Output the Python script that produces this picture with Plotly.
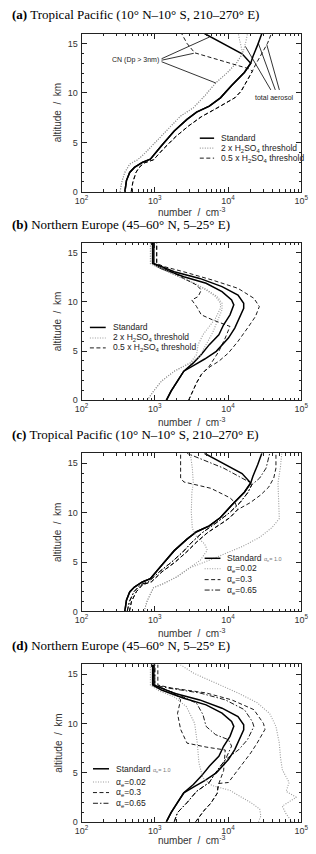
import plotly.graph_objects as go

# ---------------- data (number concentration in cm^-3 vs altitude in km) ----------------
# Tropical Pacific, standard run (panels a and c)
TP_STD_LOW_ALT = [0, 1.14, 1.97, 2.47, 2.98, 3.31, 4.65, 6.15, 7.32, 8.06, 8.66, 9.5, 10.74, 12.07, 13.0]
TP_STD_LOW_NUM = [390, 410, 454, 527, 676, 869, 1233, 1841, 2748, 3715, 5540, 7870, 11170, 16680, 20370]
TP_STD_CN_TOP_ALT = [13.95, 16.0]
TP_STD_CN_TOP_NUM = [15520, 4760]
TP_STD_TOT_TOP_ALT = [13.68, 14.85, 16.0]
TP_STD_TOT_TOP_NUM = [21830, 25340, 28890]

# (a) 2 x H2SO4 threshold
A_2X_LOW_ALT = [0, 0.97, 1.97, 2.81, 3.24, 3.81, 4.98, 6.32, 7.66, 8.49, 9.67, 11.0, 12.0, 13.0, 14.0]
A_2X_LOW_NUM = [336, 353, 390, 454, 582, 711, 1009, 1507, 2249, 3357, 4760, 6760, 9610, 12970, 15850]
A_2X_CN_TOP_ALT = [15.35, 16.0]
A_2X_CN_TOP_NUM = [14350, 13780]
A_2X_TOT_TOP_ALT = [15.18, 16.0]
A_2X_TOT_TOP_NUM = [17500, 18410]

# (a) 0.5 x H2SO4 threshold
A_05X_LOW_ALT = [0, 0.97, 1.97, 2.47, 2.91, 3.24, 4.31, 5.59, 6.66, 7.59, 8.39, 9.5, 10.17, 11.17, 12.17]
A_05X_LOW_NUM = [476, 501, 554, 612, 711, 961, 1297, 1936, 2890, 4310, 6760, 12330, 15070, 18060, 21380]
A_05X_CN_TOP_ALT = [12.4, 13.2, 14.05, 15.0, 16.0]
A_05X_CN_TOP_NUM = [20000, 8300, 3500, 2750, 2320]
A_05X_TOT_TOP_ALT = [12.84, 14.01, 15.02, 16.0]
A_05X_TOT_TOP_NUM = [23650, 28890, 34600, 39000]

# (a) leader lines for the in-plot labels
CN_LEADER_START_NUM = [1236, 1236, 1236]
CN_LEADER_START_ALT = [13.45, 13.3, 13.15]
CN_LEADER_END_NUM = [5600, 3400, 6800]
CN_LEADER_END_ALT = [15.65, 14.0, 11.0]
TOT_LEADER_START_NUM = [38300, 44100, 50100]
TOT_LEADER_START_ALT = [10.3, 10.3, 10.3]
TOT_LEADER_END_NUM = [17200, 25900, 33800]
TOT_LEADER_END_ALT = [14.7, 15.0, 14.85]

# Northern Europe, standard run (panels b and d)
NE_STD_LOW_ALT = [0, 0.94, 1.95, 2.96]
NE_STD_LOW_NUM = [1436, 1667, 2037, 2487]
NE_STD_CN_TOP_ALT = [3.8, 4.65, 5.66, 6.67, 7.68, 8.69, 9.7, 10.2, 11.04, 11.89, 12.56, 13.4, 13.9, 16.0]
NE_STD_CN_TOP_NUM = [3357, 4310, 5540, 7480, 8690, 10620, 11970, 11170, 8260, 5010, 2487, 1233, 933, 933]
NE_STD_TOT_TOP_ALT = [3.6, 4.2, 4.98, 6.33, 7.34, 8.35, 9.36, 9.87, 10.7, 11.55, 12.39, 13.06, 13.57, 13.9, 16.0]
NE_STD_TOT_TOP_NUM = [3500, 4800, 6900, 10100, 12330, 14350, 16330, 16330, 13650, 8260, 4100, 1841, 1233, 970, 970]

# (b) 2 x H2SO4 threshold
B_2X_LOW_ALT = [0, 0.94, 1.95, 2.96, 3.8]
B_2X_LOW_NUM = [787, 961, 1233, 1841, 3040]
B_2X_CN_TOP_ALT = [4.65, 5.66, 6.67, 7.51, 8.35, 9.36, 9.87, 10.54, 11.21, 11.89, 12.73, 13.57, 13.9, 16.0]
B_2X_CN_TOP_NUM = [3715, 3900, 4540, 5540, 6760, 7870, 7870, 6760, 5010, 3357, 1841, 1061, 869, 869]
B_2X_TOT_TOP_ALT = [4.48, 5.66, 6.84, 8.01, 9.19, 9.87, 10.54, 11.21, 11.89, 12.73, 13.57, 13.9, 16.0]
B_2X_TOT_TOP_NUM = [4100, 5010, 6120, 7110, 8260, 8260, 7110, 5200, 3500, 1900, 1100, 880, 880]

# (b) 0.5 x H2SO4 threshold
B_05X_LOW_ALT = [0, 0.77, 1.78, 2.62, 2.96]
B_05X_LOW_NUM = [2890, 3190, 3715, 4310, 4760]
B_05X_CN_TOP_ALT = [3.47, 3.97, 4.98, 6.33, 7.0, 7.51, 8.18, 8.69, 9.53, 10.2, 10.54, 11.21, 11.72, 12.39, 13.23, 13.74, 14.0, 16.0]
B_05X_CN_TOP_NUM = [5540, 6120, 7480, 9140, 10000, 10620, 6120, 4310, 3715, 3190, 3900, 4310, 3715, 2487, 1507, 1117, 1061, 1061]
B_05X_TOT_TOP_ALT = [3.47, 3.97, 4.81, 5.99, 7.34, 8.52, 9.53, 10.37, 11.38, 12.22, 13.06, 13.57, 13.9, 16.0]
B_05X_TOT_TOP_NUM = [5820, 7480, 10100, 13650, 18410, 23650, 26690, 22490, 13650, 6120, 2487, 1365, 1061, 1061]

# (c) accommodation coefficient 0.02
C_002_LOW_ALT = [0, 1.1, 2.4, 2.8, 3.5, 4.4]
C_002_LOW_NUM = [711, 790, 960, 1300, 2000, 3000]
C_002_CN_TOP_ALT = [5.2, 6.2, 6.8, 7.6, 8.4, 10.0, 12.0, 13.0, 14.5, 16.0]
C_002_CN_TOP_NUM = [4200, 5200, 4800, 3700, 3250, 3150, 3200, 3350, 3250, 3050]
C_002_TOT_TOP_ALT = [5.1, 5.8, 6.6, 7.5, 8.5, 9.4, 11.0, 13.0, 14.7, 16.0]
C_002_TOT_TOP_NUM = [5200, 9000, 16000, 27000, 40000, 50000, 49000, 48000, 52000, 54000]

# (c) accommodation coefficient 0.3
C_03_LOW_ALT = [0, 1.0, 2.0, 2.7, 3.0, 4.0, 5.0, 6.0, 7.0, 8.0, 9.0, 9.5, 10.3]
C_03_LOW_NUM = [450, 480, 560, 680, 900, 1250, 1900, 2700, 3700, 5300, 8500, 10600, 13500]
C_03_CN_TOP_ALT = [11.0, 11.5, 12.46, 13.1, 13.5, 16.0]
C_03_CN_TOP_NUM = [12500, 10600, 5820, 2490, 2250, 2250]
C_03_TOT_TOP_ALT = [11.0, 11.8, 12.6, 13.5, 14.5, 16.0]
C_03_TOT_TOP_NUM = [20000, 28000, 36000, 42000, 45000, 45000]

# (c) accommodation coefficient 0.65
C_065_LOW_ALT = [0, 1.0, 2.0, 2.7, 3.0, 4.0, 5.0, 6.0, 7.0, 8.0, 9.0, 10.0, 11.0, 12.0, 12.8]
C_065_LOW_NUM = [420, 450, 520, 640, 820, 1150, 1700, 2400, 3200, 4500, 7000, 10500, 14500, 18500, 21000]
C_065_CN_TOP_ALT = [13.1, 14.5, 16.0]
C_065_CN_TOP_NUM = [19400, 8700, 2750]
C_065_TOT_TOP_ALT = [13.5, 14.5, 16.0]
C_065_TOT_TOP_NUM = [27000, 33000, 37000]

# (d) accommodation coefficient 0.02
D_002_CN_ALT = [0, 0.6, 1.3, 1.9, 3.2, 3.7, 4.5, 6.0, 8.0, 10.0, 11.7, 12.7, 13.3, 13.9, 16.0]
D_002_CN_NUM = [26000, 28000, 27000, 21000, 10600, 6000, 4500, 4000, 3800, 3500, 2700, 1840, 1150, 870, 870]
D_002_TOT_ALT = [0, 0.8, 1.6, 2.5, 3.1, 4.0, 5.3, 6.5, 8.0, 9.7, 11.0, 12.1, 13.1, 14.1, 15.1, 16.0]
D_002_TOT_NUM = [75000, 62000, 55000, 85000, 62000, 68000, 55000, 52000, 50000, 45000, 37000, 25000, 13600, 6800, 3400, 2200]

# (d) accommodation coefficient 0.3
D_03_LOW_ALT = [0, 1.2, 1.9, 2.9, 3.6, 3.9]
D_03_LOW_NUM = [3600, 4760, 5820, 7110, 7300, 7480]
D_03_CN_TOP_ALT = [5.2, 6.3, 7.3, 7.6, 8.0, 9.4, 11.0, 12.4, 13.1, 13.6, 13.9, 16.0]
D_03_CN_TOP_NUM = [8690, 9000, 9140, 5010, 2750, 2250, 2040, 2250, 1840, 1230, 1000, 1000]
D_03_TOT_TOP_ALT = [4.0, 5.3, 7.0, 8.0, 9.4, 10.0, 11.4, 12.4, 13.1, 13.6, 13.9, 16.0]
D_03_TOT_TOP_NUM = [10100, 13650, 20370, 24900, 31900, 30400, 22490, 11170, 5000, 1700, 1100, 1100]

# (d) accommodation coefficient 0.65
D_065_LOW_ALT = [0, 0.94, 1.95, 3.1, 4.0, 5.0, 6.3]
D_065_LOW_NUM = [1840, 2040, 2750, 3715, 5540, 6760, 9140]
D_065_CN_TOP_ALT = [7.7, 8.35, 8.86, 9.7, 10.9, 12.05, 13.0, 13.7, 13.9, 16.0]
D_065_CN_TOP_NUM = [11170, 10100, 6760, 5010, 4540, 3715, 2000, 1150, 950, 950]
D_065_TOT_TOP_ALT = [7.34, 8.35, 9.7, 10.2, 11.4, 12.4, 13.1, 13.6, 13.9, 16.0]
D_065_TOT_TOP_NUM = [14000, 18410, 22490, 21380, 16680, 9140, 4100, 1500, 1000, 1000]

X_TICK_VALS = [100, 1000, 10000, 100000]
X_TICK_TEXT = ["10<sup>2</sup>", "10<sup>3</sup>", "10<sup>4</sup>", "10<sup>5</sup>"]
Y_TICK_VALS = [0, 5, 10, 15]

TITLES = [
    "<b>(a)</b> Tropical Pacific (10° N–10° S, 210–270° E)",
    "<b>(b)</b> Northern Europe (45–60° N, 5–25° E)",
    "<b>(c)</b> Tropical Pacific (10° N–10° S, 210–270° E)",
    "<b>(d)</b> Northern Europe (45–60° N, 5–25° E)",
]
LEG_THRESH = ["Standard", "2 x H<sub>2</sub>SO<sub>4</sub> threshold", "0.5 x H<sub>2</sub>SO<sub>4</sub> threshold"]
LEG_ACCOM = ["Standard <span style='font-size:5.5px;color:#777'>α<sub>e</sub>= 1.0</span>",
             "α<sub>e</sub>=0.02", "α<sub>e</sub>=0.3", "α<sub>e</sub>=0.65"]

# ---------------- layout geometry (pixels) ----------------
W, H = 316, 854
XL, XR = 78, 308
FRAMES = [(33.7, 193.0), (244.3, 402.7), (456.0, 615.0), (668.3, 826.7)]
TITLE_Y = [15, 226, 437.5, 649]
XTITLE_Y = [213.3, 424.0, 636.5, 845.0]

STD = dict(color="black", width=1.5, dash="solid")
TWO = dict(color="#9a9a9a", width=1.1, dash="1px,1.5px")
HALF = dict(color="black", width=0.9, dash="4px,2.5px")
DDOT = dict(color="black", width=0.9, dash="5px,2px,1.5px,2px")
STYLES3 = [STD, TWO, HALF]
STYLES4 = [STD, TWO, HALF, DDOT]

fig = go.Figure()


def ax(i):
    return ("x" if i == 0 else f"x{i+1}"), ("y" if i == 0 else f"y{i+1}")


def add(i, alt, num, style, width=None):
    xa, ya = ax(i)
    ln = dict(style)
    if width is not None:
        ln["width"] = width
    fig.add_trace(go.Scatter(x=num, y=alt, xaxis=xa, yaxis=ya, mode="lines",
                             line=ln, showlegend=False, hoverinfo="skip"))


def add_pair(i, low_alt, low_num, cn_alt, cn_num, tot_alt, tot_num, style):
    add(i, low_alt + tot_alt, low_num + tot_num, style)
    add(i, low_alt + cn_alt, low_num + cn_num, style)


# panel (a)
add_pair(0, TP_STD_LOW_ALT, TP_STD_LOW_NUM, TP_STD_CN_TOP_ALT, TP_STD_CN_TOP_NUM, TP_STD_TOT_TOP_ALT, TP_STD_TOT_TOP_NUM, STD)
add_pair(0, A_2X_LOW_ALT, A_2X_LOW_NUM, A_2X_CN_TOP_ALT, A_2X_CN_TOP_NUM, A_2X_TOT_TOP_ALT, A_2X_TOT_TOP_NUM, TWO)
add_pair(0, A_05X_LOW_ALT, A_05X_LOW_NUM, A_05X_CN_TOP_ALT, A_05X_CN_TOP_NUM, A_05X_TOT_TOP_ALT, A_05X_TOT_TOP_NUM, HALF)
LEAD = dict(color="black", width=0.8, dash="solid")
for k in range(3):
    add(0, [CN_LEADER_START_ALT[k], CN_LEADER_END_ALT[k]], [CN_LEADER_START_NUM[k], CN_LEADER_END_NUM[k]], LEAD)
    add(0, [TOT_LEADER_START_ALT[k], TOT_LEADER_END_ALT[k]], [TOT_LEADER_START_NUM[k], TOT_LEADER_END_NUM[k]], LEAD)

# panel (b)
add_pair(1, NE_STD_LOW_ALT, NE_STD_LOW_NUM, NE_STD_CN_TOP_ALT, NE_STD_CN_TOP_NUM, NE_STD_TOT_TOP_ALT, NE_STD_TOT_TOP_NUM, STD)
add_pair(1, B_2X_LOW_ALT, B_2X_LOW_NUM, B_2X_CN_TOP_ALT, B_2X_CN_TOP_NUM, B_2X_TOT_TOP_ALT, B_2X_TOT_TOP_NUM, TWO)
add_pair(1, B_05X_LOW_ALT, B_05X_LOW_NUM, B_05X_CN_TOP_ALT, B_05X_CN_TOP_NUM, B_05X_TOT_TOP_ALT, B_05X_TOT_TOP_NUM, HALF)

# panel (c)
add_pair(2, TP_STD_LOW_ALT, TP_STD_LOW_NUM, TP_STD_CN_TOP_ALT, TP_STD_CN_TOP_NUM, TP_STD_TOT_TOP_ALT, TP_STD_TOT_TOP_NUM, STD)
add_pair(2, C_002_LOW_ALT, C_002_LOW_NUM, C_002_CN_TOP_ALT, C_002_CN_TOP_NUM, C_002_TOT_TOP_ALT, C_002_TOT_TOP_NUM, TWO)
add_pair(2, C_03_LOW_ALT, C_03_LOW_NUM, C_03_CN_TOP_ALT, C_03_CN_TOP_NUM, C_03_TOT_TOP_ALT, C_03_TOT_TOP_NUM, HALF)
add_pair(2, C_065_LOW_ALT, C_065_LOW_NUM, C_065_CN_TOP_ALT, C_065_CN_TOP_NUM, C_065_TOT_TOP_ALT, C_065_TOT_TOP_NUM, DDOT)

# panel (d)
add_pair(3, NE_STD_LOW_ALT, NE_STD_LOW_NUM, NE_STD_CN_TOP_ALT, NE_STD_CN_TOP_NUM, NE_STD_TOT_TOP_ALT, NE_STD_TOT_TOP_NUM, STD)
add(3, D_002_TOT_ALT, D_002_TOT_NUM, TWO)
add(3, D_002_CN_ALT, D_002_CN_NUM, TWO)
add_pair(3, D_03_LOW_ALT, D_03_LOW_NUM, D_03_CN_TOP_ALT, D_03_CN_TOP_NUM, D_03_TOT_TOP_ALT, D_03_TOT_TOP_NUM, HALF)
add_pair(3, D_065_LOW_ALT, D_065_LOW_NUM, D_065_CN_TOP_ALT, D_065_CN_TOP_NUM, D_065_TOT_TOP_ALT, D_065_TOT_TOP_NUM, DDOT)

# ---------------- axes ----------------
TICKFONT = dict(family="Liberation Sans, Arial, sans-serif", size=9, color="#333")
layout = dict(width=W, height=H, margin=dict(l=0, r=0, t=0, b=0),
              paper_bgcolor="white", plot_bgcolor="white", showlegend=False)
X_MINOR = [m * 10 ** e for e in (2, 3, 4) for m in range(2, 10)]
for i, (top, bot) in enumerate(FRAMES):
    sfx = "" if i == 0 else str(i + 1)
    xa, ya = ax(i)
    layout["xaxis" + sfx] = dict(
        type="log", range=[2, 5], domain=[XL / W, XR / W], anchor=ya,
        showline=True, linecolor="#222", linewidth=1, mirror="ticks",
        ticks="inside", ticklen=5, tickwidth=1, tickcolor="#222",
        tickvals=X_TICK_VALS, ticktext=X_TICK_TEXT, tickfont=TICKFONT,
        ticklabelstandoff=0,
        minor=dict(ticks="inside", ticklen=2.5, tickcolor="#222", tickvals=X_MINOR, showgrid=False),
        showgrid=False, zeroline=False, fixedrange=True)
    layout["yaxis" + sfx] = dict(
        range=[0, 16], domain=[1 - bot / H, 1 - top / H], anchor=xa,
        showline=True, linecolor="#222", linewidth=1, mirror="ticks",
        ticks="inside", ticklen=5, tickwidth=1, tickcolor="#222",
        tickvals=Y_TICK_VALS, tickfont=TICKFONT, ticklabelstandoff=1,
        minor=dict(ticks="inside", ticklen=2.5, tickcolor="#222", dtick=1, showgrid=False),
        showgrid=False, zeroline=False, fixedrange=True)
fig.update_layout(**layout)

# ---------------- text ----------------
ann = []
for i, (top, bot) in enumerate(FRAMES):
    ann.append(dict(text=TITLES[i], xref="paper", yref="paper", x=3 / W, y=1 - TITLE_Y[i] / H,
                    xanchor="left", yanchor="middle", showarrow=False,
                    font=dict(family="Liberation Serif, Times New Roman, serif", size=13, color="black")))
    ann.append(dict(text="altitude&nbsp; /&nbsp; km", xref="paper", yref="paper", x=53 / W,
                    y=1 - (top + bot) / 2 / H, textangle=-90, xanchor="center", yanchor="middle",
                    showarrow=False, font=dict(family="Liberation Sans, Arial, sans-serif", size=10, color="#333")))
    ann.append(dict(text="number&nbsp; /&nbsp; cm<sup>-3</sup>", xref="paper", yref="paper", x=(XL + XR) / 2 / W,
                    y=1 - XTITLE_Y[i] / H, xanchor="center", yanchor="middle",
                    showarrow=False, font=dict(family="Liberation Sans, Arial, sans-serif", size=10, color="#333")))

# legends (key line start/end and text start as fraction of each plot area)
LEG_POS = [
    dict(x0=0.538, x1=0.603, xt=0.625, ys=[0.339, 0.276, 0.213]),
    dict(x0=0.038, x1=0.110, xt=0.132, ys=[0.463, 0.396, 0.333]),
    dict(x0=0.560, x1=0.632, xt=0.653, ys=[0.336, 0.270, 0.201, 0.135]),
    dict(x0=0.052, x1=0.125, xt=0.147, ys=[0.337, 0.253, 0.186, 0.118]),
]
shapes = []
LEGFONT = dict(family="Liberation Sans, Arial, sans-serif", size=8.5, color="#222")
for i, lp in enumerate(LEG_POS):
    xa, ya = ax(i)
    labels = LEG_THRESH if i < 2 else LEG_ACCOM
    styles = STYLES3 if i < 2 else STYLES4
    for k, yv in enumerate(lp["ys"]):
        st = styles[k]
        shapes.append(dict(type="line", xref=xa + " domain", yref=ya + " domain",
                           x0=lp["x0"], x1=lp["x1"], y0=yv, y1=yv,
                           line=dict(color=st["color"], width=st["width"], dash=st["dash"])))
        ann.append(dict(text=labels[k], xref=xa + " domain", yref=ya + " domain", x=lp["xt"], y=yv,
                        xanchor="left", yanchor="middle", showarrow=False, font=LEGFONT))

# in-plot labels of panel (a)
SMALL = dict(family="Liberation Sans, Arial, sans-serif", size=7, color="#222")
ann.append(dict(text="CN (Dp > 3nm)", xref="x domain", yref="y domain", x=(161 - XL) / (XR - XL),
                y=13.3 / 16, xanchor="right", yanchor="middle", showarrow=False, font=SMALL))
ann.append(dict(text="total aerosol", xref="x domain", yref="y domain", x=(280 - XL) / (XR - XL),
                y=9.5 / 16, xanchor="center", yanchor="middle", showarrow=False, font=SMALL))

fig.update_layout(annotations=ann, shapes=shapes)
fig.write_html("out.html")
